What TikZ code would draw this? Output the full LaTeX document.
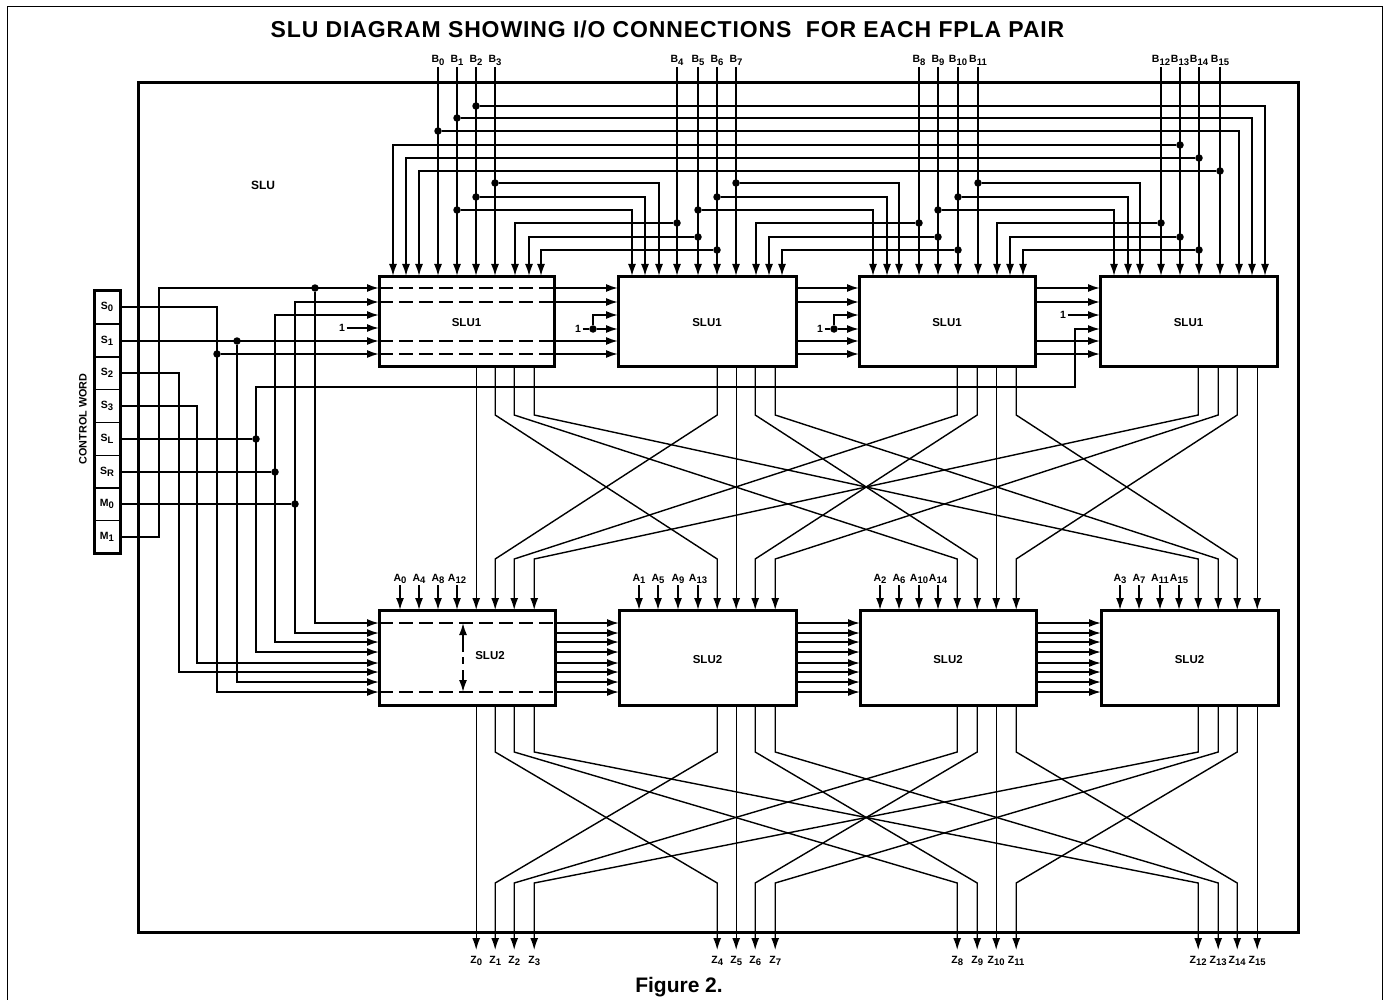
\documentclass[tikz,border=0pt]{standalone}
\usepackage{fontspec}
\setsansfont{Liberation Sans}
\newfontfamily\titlefont[LetterSpace=3.8]{Liberation Sans}
\usetikzlibrary{arrows.meta, calc}
\newcommand{\sublbl}[2]{#1\raisebox{-2.5pt}{\fontsize{9.5}{10}\selectfont #2}}

\begin{document}
\begin{tikzpicture}[x=1pt, y=-1pt, font=\sffamily\bfseries\fontsize{10.5}{12}\selectfont,
    >={Latex[length=12pt,width=8pt]},
    wire/.style={line width=1.7pt},
    thinwire/.style={line width=1.4pt},
    dashline/.style={line width=1.7pt, dash pattern=on 14pt off 6pt},
    slubox/.style={draw, line width=3pt, outer sep=0pt, minimum height=#1, text height=11pt, text depth=0pt, font=\sffamily\bfseries\fontsize{11.5}{13}\selectfont},
    jdot/.style={circle, fill=black, inner sep=0pt, minimum size=7.5pt},
    cellbox/.style={draw, line width=1pt, minimum width=26pt, minimum height=33pt, inner sep=0pt, outer sep=0pt},
    pinlabel/.style={anchor=base, inner sep=0pt},
    onelabel/.style={inner sep=1.5pt}]
    \useasboundingbox (0,0) rectangle (1383,1000);

    % Page edge, outer frame and headings
    \coordinate (pageA) at (7,1000);
    \coordinate (pageB) at (7,7);
    \coordinate (pageC) at (1382,7);
    \coordinate (pageD) at (1382,1000);
    \draw[line width=1pt] (pageA) -- (pageB) -- (pageC) -- (pageD);
    \node[draw, line width=3pt, minimum width=1160pt, minimum height=849pt, outer sep=0pt] (frame) at (718,507.5) {};
    \node[font=\titlefont\bfseries\fontsize{23}{26}\selectfont] (title) at (667.5,29) {SLU DIAGRAM SHOWING I/O CONNECTIONS\ \ FOR EACH FPLA PAIR};
    \node[font=\sffamily\bfseries\fontsize{21}{24}\selectfont] (figlabel) at (679,987) {Figure 2.};
    \node[font=\sffamily\bfseries\fontsize{12}{14}\selectfont] (slulabel) at (263,185) {SLU};

    % The eight SLU blocks
    \node[slubox=90pt, minimum width=175pt] (t1) at (466.5,321) {SLU1};
    \node[slubox=90pt, minimum width=178pt] (t2) at (707,321) {SLU1};
    \node[slubox=90pt, minimum width=176pt] (t3) at (947,321) {SLU1};
    \node[slubox=90pt, minimum width=177pt] (t4) at (1188.5,321) {SLU1};
    \node[slubox=95pt, minimum width=176pt] (s1) at (467,657.5) {};
    \node[slubox=95pt, minimum width=177pt] (s2) at (707.5,657.5) {SLU2};
    \node[slubox=95pt, minimum width=176pt] (s3) at (948,657.5) {SLU2};
    \node[slubox=95pt, minimum width=177pt] (s4) at (1189.5,657.5) {SLU2};
    \node[font=\sffamily\bfseries\fontsize{11.5}{13}\selectfont] (slutwo) at (490,656) {SLU2};

    % Rows of wires
    \foreach \r/\yv in {1/106,2/118,3/131,4/145,5/158,6/171,7/183,8/197,9/210,10/223,11/237,12/250}
        \coordinate (r\r) at (0,\yv);
    \foreach \r/\yv in {1/288,2/302,3/315,4/329,5/341,6/354}
        \coordinate (rt\r) at (0,\yv);
    \foreach \r/\yv in {1/623,2/633,3/642,4/652,5/663,6/672,7/682,8/692}
        \coordinate (rs\r) at (0,\yv);
    \coordinate (ytop) at (0,67);
    \coordinate (yA) at (0,366);
    \coordinate (yB) at (0,415);
    \coordinate (yC) at (0,559);
    \coordinate (yD) at (0,610);
    \coordinate (yE) at (0,705);
    \coordinate (yF) at (0,752);
    \coordinate (yG) at (0,883);
    \coordinate (yH) at (0,950);

    % Pins along the top of the SLU1 blocks
    \foreach \i/\xlist in {1/{393,406,419,438,457,476,495,515,529,541},
                           2/{632,645,659,677,698,717,736,756,769,782},
                           3/{873,887,899,919,938,958,978,997,1010,1023},
                           4/{1114,1128,1140,1161,1180,1199,1220,1239,1252,1265}}
        \foreach \xv [count=\p] in \xlist
            \coordinate (t\i-\p) at (\xv,276);

    % B inputs
    \foreach \i in {1,...,4}
        \foreach \p in {4,...,7}{
            \pgfmathtruncatemacro\bn{4*(\i-1)+\p-4}
            \coordinate (b\bn) at (t\i-\p |- ytop);
            \node[pinlabel] (labB\bn) at ($(t\i-\p |- ytop)+(0,-4)$) {\sublbl{B}{\bn}};
            \draw[wire,->] (b\bn) -- (t\i-\p);
        }

    % B branches: input, row, block, pin
    \foreach \bn/\r/\i/\p in {2/1/4/10, 1/2/4/9, 0/3/4/8, 13/4/1/1, 14/5/1/2, 15/6/1/3,
                              3/7/2/3, 2/8/2/2, 1/9/2/1, 4/10/1/8, 5/11/1/9, 6/12/1/10,
                              7/7/3/3, 6/8/3/2, 5/9/3/1, 8/10/2/8, 9/11/2/9, 10/12/2/10,
                              11/7/4/3, 10/8/4/2, 9/9/4/1, 12/10/3/8, 13/11/3/9, 14/12/3/10}{
        \node[jdot] (j\bn-\r) at (b\bn |- r\r) {};
        \draw[wire,->] (j\bn-\r) -| (t\i-\p);
    }

    % Control word
    \foreach \nm/\ltr/\sb/\yv in {S0/S/0/307, S1/S/1/341, S2/S/2/373, S3/S/3/406,
                                  SL/S/L/439, SR/S/R/472, M0/M/0/504, M1/M/1/537}
        \node[cellbox] (c\nm) at (107,\yv) {\sublbl{\ltr}{\sb}};
    \draw[line width=3pt] (cS0.north west) rectangle (cM1.south east);
    \node[rotate=90, font=\sffamily\bfseries\fontsize{10.8}{12}\selectfont] (ctrlword) at (83,419) {CONTROL WORD};

    % Vertical rails from the control word
    \foreach \nm/\xv in {S2/179, S3/197, S0/217, S1/237, SL/256, SR/275, M0/295, M1/159, T1/315}
        \coordinate (rail\nm) at (\xv,0);
    \coordinate (slup) at (0,387);
    \coordinate (railE) at (1075,0);

    \draw[wire,->] (cS0.east) -| (railS0 |- rs8) -- (s1.west |- rs8);
    \node[jdot] (jS0) at (railS0 |- rt6) {};
    \draw[wire,->] (jS0) -- (t1.west |- rt6);

    \draw[wire,->] (cS1.east) -- (t1.west |- rt5);
    \node[jdot] (jS1) at (railS1 |- rt5) {};
    \draw[wire,->] (jS1) |- (s1.west |- rs7);

    \draw[wire,->] (cS2.east) -| (railS2 |- rs6) -- (s1.west |- rs6);
    \draw[wire,->] (cS3.east) -| (railS3 |- rs5) -- (s1.west |- rs5);

    \node[jdot] (jSL) at (railSL |- cSL) {};
    \draw[wire] (cSL.east) -- (jSL);
    \draw[wire,<->] (s1.west |- rs4) -| (railSL |- slup) -- (railE |- slup) -- (railE |- rt4) -- (t4.west |- rt4);

    \node[jdot] (jSR) at (railSR |- cSR) {};
    \draw[wire] (cSR.east) -- (jSR);
    \draw[wire,<->] (s1.west |- rs3) -| (railSR |- rt3) -- (t1.west |- rt3);

    \node[jdot] (jM0) at (railM0 |- cM0) {};
    \draw[wire] (cM0.east) -- (jM0);
    \draw[wire,<->] (s1.west |- rs2) -| (railM0 |- rt2) -- (t1.west |- rt2);

    \draw[wire,->] (cM1.east) -| (railM1 |- rt1) -- (t1.west |- rt1);
    \node[jdot] (jM1) at (railT1 |- rt1) {};
    \draw[wire,->] (jM1) |- (s1.west |- rs1);

    % Carry lines between the SLU1 blocks, dashed through the first
    \foreach \r in {1,2,5,6}{
        \draw[dashline] (t1.west |- rt\r) -- (t1.east |- rt\r);
        \foreach \a/\bb in {1/2,2/3,3/4}
            \draw[wire,->] (t\a.east |- rt\r) -- (t\bb.west |- rt\r);
    }

    % Constant 1 inputs
    \node[onelabel] (one1) at (342,328) {1};
    \draw[wire,->] (one1) -- (t1.west |- one1);
    \foreach \a/\xv/\xd in {2/578/593, 3/820/834}{
        \node[onelabel] (one\a) at (\xv,329) {1};
        \node[jdot] (jone\a) at (\xd,329) {};
        \draw[wire] (one\a) -- (jone\a);
        \draw[wire,->] (jone\a) -- (t\a.west |- rt4);
        \draw[wire,->] (jone\a) |- (t\a.west |- rt3);
    }
    \node[onelabel] (one4) at (1063,315) {1};
    \draw[wire,->] (one4) -- (t4.west |- rt3);

    % Lines between the SLU2 blocks
    \foreach \r in {1,...,8}
        \foreach \a/\bb in {1/2,2/3,3/4}
            \draw[wire,->] (s\a.east |- rs\r) -- (s\bb.west |- rs\r);
    \draw[dashline] (s1.west |- rs1) -- (s1.east |- rs1);
    \draw[dashline] (s1.west |- rs8) -- (s1.east |- rs8);

    % Arrow inside the first SLU2 block
    \coordinate (spanA) at (463,623);
    \coordinate (spanB) at (463,652);
    \coordinate (spanC) at (463,657);
    \coordinate (spanD) at (463,664);
    \coordinate (spanE) at (463,670);
    \coordinate (spanF) at (463,692);
    \draw[wire,->] (spanB) -- (spanA);
    \draw[wire] (spanC) -- (spanD);
    \draw[wire,->] (spanE) -- (spanF);

    % A inputs
    \foreach \i/\xlist in {1/{400,419,438,457}, 2/{639,658,678,698}, 3/{880,899,919,938}, 4/{1120,1139,1160,1179}}
        \foreach \xv [count=\p] in \xlist {
            \pgfmathtruncatemacro\an{\i-1+4*(\p-1)}
            \coordinate (a\an) at (\xv,585);
            \node[pinlabel] (labA\an) at (\xv,581) {\sublbl{A}{\an}};
            \draw[wire,->] (a\an) -- (s\i.north -| a\an);
        }

    % Output columns of each block
    \foreach \i/\xlist in {1/{476.2,495.2,514.2,534.2}, 2/{717.2,736.2,755.2,775.2}, 3/{957.2,977.2,996.2,1016.2}, 4/{1198.2,1218.2,1237.2,1257.2}}
        \foreach \xv [count=\j] in \xlist
            \coordinate (o\i-\j) at (\xv,0);

    % Both crossovers and the Z outputs
    \foreach \i in {1,...,4}
        \foreach \j in {1,...,4}{
            \draw[thinwire,->] (o\i-\j |- yA) -- (o\i-\j |- yB) -- (o\j-\i |- yC) -- (o\j-\i |- yD);
            \draw[thinwire,->] (o\i-\j |- yE) -- (o\i-\j |- yF) -- (o\j-\i |- yG) -- (o\j-\i |- yH);
            \pgfmathtruncatemacro\zn{4*(\i-1)+\j-1}
            \node[pinlabel] (labZ\zn) at ($(o\i-\j |- yH)+(0,13)$) {\sublbl{Z}{\zn}};
        }
\end{tikzpicture}
\end{document}
